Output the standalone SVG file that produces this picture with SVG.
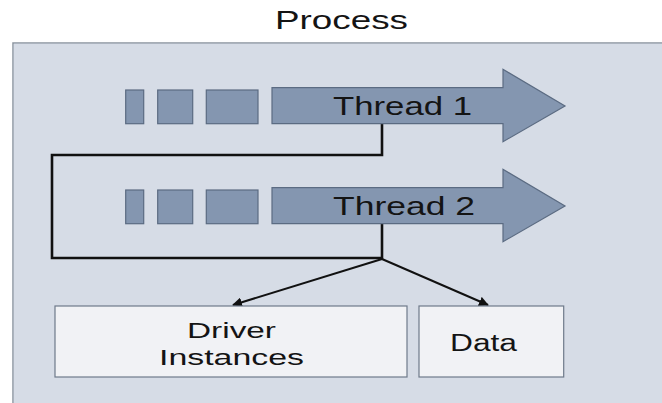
<svg xmlns="http://www.w3.org/2000/svg" width="662" height="403" viewBox="0 0 662 403">
  <defs>
    <style>
      .panel { fill: #d6dce6; stroke: #8a949e; stroke-width: 1.5; }
      .blk { fill: #8496b0; stroke: #5b6b82; stroke-width: 1.2; }
      .lbl { font-family: "Liberation Sans", Arial, sans-serif; fill: #141414; }
      .box { fill: #f1f2f5; stroke: #6e7a8a; stroke-width: 1.2; }
      .wire { fill: none; stroke: #111; stroke-width: 2.6; stroke-linejoin: miter; }
      .link { fill: none; stroke: #111; stroke-width: 2; }
    </style>
    <marker id="tip" viewBox="0 0 10 10" refX="9" refY="5" markerWidth="5" markerHeight="5" orient="auto" markerUnits="strokeWidth">
      <path d="M0,0 L10,5 L0,10 z" fill="#111"/>
    </marker>
    <!-- a thread: queued blocks plus the big arrow -->
    <g id="threadShape">
      <rect class="blk" x="125.7" y="90" width="18" height="33.7"/>
      <rect class="blk" x="157.7" y="90" width="35" height="33.7"/>
      <rect class="blk" x="206.3" y="90" width="51.7" height="33.7"/>
      <path class="blk" d="M272,87.7 H503 V69.3 L565,106 L503,141.7 V123.7 H272 Z"/>
    </g>
  </defs>

  <rect width="662" height="403" fill="#ffffff"/>

  <text class="lbl" x="275" y="29" font-size="25" textLength="133" lengthAdjust="spacingAndGlyphs">Process</text>

  <g id="process">
    <path class="panel" d="M13,410 V43 H670"/>
    <rect x="13.75" y="43.75" width="660" height="370" fill="#d6dce6"/>
  </g>

  <g id="connectors">
    <path class="wire" d="M382,124 V155 H52 V258 H382"/>
    <path class="wire" d="M382,224 V259"/>
    <line class="link" x1="382" y1="259" x2="233" y2="305" marker-end="url(#tip)"/>
    <line class="link" x1="382" y1="259" x2="488" y2="305" marker-end="url(#tip)"/>
  </g>

  <g id="thread1">
    <use href="#threadShape"/>
    <text class="lbl" x="333" y="115" font-size="26" textLength="139" lengthAdjust="spacingAndGlyphs">Thread 1</text>
  </g>

  <g id="thread2">
    <use href="#threadShape" y="100"/>
    <text class="lbl" x="333" y="215" font-size="26" textLength="142" lengthAdjust="spacingAndGlyphs">Thread 2</text>
  </g>

  <g id="driver-instances">
    <rect class="box" x="55" y="306" width="352" height="71"/>
    <text class="lbl" x="187" y="338" font-size="22" textLength="89" lengthAdjust="spacingAndGlyphs">Driver</text>
    <text class="lbl" x="159" y="365" font-size="22" textLength="145" lengthAdjust="spacingAndGlyphs">Instances</text>
  </g>

  <g id="data">
    <rect class="box" x="419" y="306" width="144.7" height="71"/>
    <text class="lbl" x="450" y="351" font-size="23" textLength="67" lengthAdjust="spacingAndGlyphs">Data</text>
  </g>
</svg>
